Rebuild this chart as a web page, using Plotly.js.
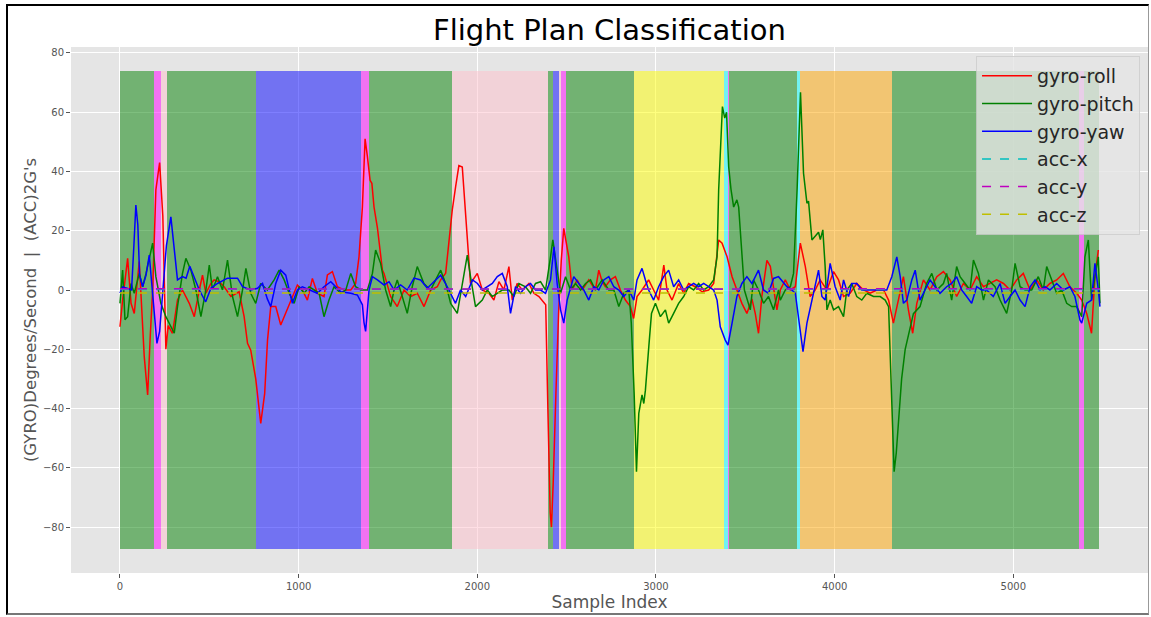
<!DOCTYPE html>
<html>
<head>
<meta charset="utf-8">
<script src="https://cdn.plot.ly/plotly-3.0.1.min.js"></script>
<style>
html,body{margin:0;padding:0;background:#fff;}
#wrap{position:relative;width:1151px;height:617px;overflow:hidden;}
#chart{position:absolute;left:0;top:0;width:1151px;height:617px;}
#frame{position:absolute;left:6px;top:4px;width:1143px;height:611px;border-left:2px solid #000;border-top:2px solid #000;border-bottom:2px solid #777;border-right:1px solid #999;box-sizing:border-box;pointer-events:none;}
</style>
</head>
<body>
<div id="wrap"><div id="chart"></div><div id="frame"></div></div>
<script>
// ---- flight-plan class bands (sample index ranges) ----
const bandStart = [0,188,231,264,764,1347,1394,1860,2393,2426,2457,2466,2499,2878,3382,3401,3410,3789,3807,4323,5369,5395];
const bandEnd   = [188,231,264,764,1347,1394,1860,2393,2426,2457,2466,2499,2878,3382,3401,3410,3789,3807,4323,5369,5395,5479];
const bandClass = ['green','magenta','pink','green','blue','magenta','green','pink','green','blue','pink','magenta','green','yellow','cyan','magenta','green','cyan','orange','green','magenta','green'];
const bandBottom = -87.5;
const bandTop = 74;

// ---- gyro-roll ----
const rollX = [0,15,43,62,80,108,136,155,170,183,201,222,240,257,270,294,322,350,388,416,444,462,481,509,527,555,583,621,667,695,714,732,760,788,810,826,844,872,900,928,965,993,1021,1049,1077,1105,1142,1161,1189,1217,1254,1292,1319,1338,1357,1372,1385,1400,1410,1422,1441,1469,1478,1515,1552,1590,1627,1664,1702,1739,1776,1795,1823,1841,1860,1879,1897,1916,1934,1953,1962,2000,2028,2065,2093,2121,2149,2177,2196,2223,2252,2289,2317,2345,2373,2383,2395,2408,2415,2425,2440,2455,2470,2484,2512,2531,2559,2587,2624,2661,2680,2699,2717,2745,2773,2801,2829,2857,2875,2894,2922,2959,2987,3015,3044,3062,3090,3127,3155,3183,3220,3258,3295,3323,3351,3370,3398,3426,3453,3481,3509,3537,3556,3574,3593,3621,3640,3677,3696,3724,3752,3780,3808,3836,3863,3891,3919,3957,3994,4022,4050,4087,4124,4162,4199,4236,4274,4302,4329,4357,4385,4413,4437,4460,4497,4534,4572,4609,4646,4683,4721,4758,4795,4833,4870,4907,4945,4982,5019,5056,5094,5131,5168,5205,5243,5280,5317,5355,5383,5411,5438,5457,5476];
const rollY = [-12.4,-3.4,10.7,-4.5,-7.9,9.6,-22.5,-35.4,-15,0,33.8,43,25,-20,-12,-14.6,-3.4,0,-4.5,-9,0,5,-1.1,2.2,3.4,2.8,1.1,-2.2,-0.6,-9,-18,-20.3,-30,-45,-35,-16.9,-5.6,-5.6,-11.8,-7.9,-2.2,1.7,0,-3.4,3.9,-1.1,-2.2,5.1,6.2,1.1,0,0,2.2,11.2,28,51,45,37,36,28,21,6.7,5.6,-2.2,-5.6,0,-2.2,-1.1,-5.6,0,1.1,3.4,5.7,16.9,27,35,42,41.5,26,12.4,2.2,5.6,0,-1.1,-3.4,2.8,0,7.9,-3.4,2.2,0,2.2,-1.1,-2.2,-4.5,-5,-40,-75,-80,-65,-35,-8,10,20.8,11.2,0,3.4,0,3.4,0,6.7,2.8,1.1,3.4,4.5,0,-3.4,-5.6,-9.6,-2.2,0,3.4,0,-3.4,8.4,0,-3.4,2.2,-1.1,2.2,1.1,-0.6,0,2.2,16.9,15.8,11.2,4.5,0,-4.5,-7.9,-3,-8,-14.6,-2,10,8,-6.7,0,3.4,0,1.1,15.8,7.9,-2.2,0,3.4,0,6.2,3.4,-2.2,-1.1,2.2,0,-1.1,0,0,-3.4,-11.2,-3.4,4.5,-6.7,-14.6,-4.5,3.4,0,4.5,6.2,3.4,-2.2,2.2,0,4.5,1.1,2.2,3.4,2.2,0,3.4,5.6,0,3.4,0,2.2,3.4,5.6,1.1,-1.1,-3.4,-7.9,-14.6,4.5,13.5];

// ---- gyro-pitch ----
const pitchX = [0,15,28,43,62,80,108,127,146,164,183,201,229,257,285,304,322,350,369,397,425,453,481,500,518,546,574,602,630,658,686,705,732,760,788,825,863,891,919,947,975,1003,1031,1059,1087,1115,1142,1170,1198,1236,1264,1292,1319,1348,1385,1413,1431,1459,1487,1515,1534,1552,1580,1608,1636,1664,1701,1739,1767,1795,1823,1851,1888,1916,1944,1962,1990,2028,2056,2084,2112,2140,2177,2205,2233,2270,2298,2326,2354,2382,2410,2423,2447,2466,2494,2522,2550,2578,2606,2634,2661,2699,2736,2764,2792,2820,2848,2862,2878,2891,2904,2922,2932,2941,2960,2975,2997,3025,3053,3071,3099,3127,3155,3183,3211,3239,3267,3295,3323,3342,3351,3365,3372,3385,3395,3407,3420,3435,3453,3463,3472,3481,3495,3528,3546,3574,3602,3630,3658,3686,3696,3724,3752,3770,3790,3809,3826,3845,3854,3873,3891,3910,3920,3934,3947,3957,3975,3994,4022,4050,4068,4096,4124,4152,4180,4218,4255,4283,4302,4311,4333,4345,4360,4375,4395,4420,4441,4478,4515,4544,4572,4609,4627,4655,4683,4702,4730,4758,4777,4805,4833,4861,4898,4926,4963,4991,5010,5038,5066,5103,5140,5168,5187,5215,5243,5271,5299,5327,5355,5383,5401,5420,5438,5457,5476,5485];
const pitchY = [-4.5,6.7,-10,-9,2.2,-1.1,5.6,1.1,5.6,10.1,15.8,4.5,-4.5,-9,-12.4,-14.6,-5.6,5.6,10.7,6.7,0,-9,0,8.4,0,4.5,0,10.1,-2.2,-9,0,7.3,-1.1,-4.5,2.2,0,3.4,6.7,3.4,-1.1,-4.5,1.1,-1.1,1.1,0,-1.1,-9,-3.4,1.1,-1.1,0,5.6,1.1,0,0,5.6,13.5,9,0,-5.6,0,3.4,-2.2,-7.9,1.1,7.9,2.2,0,3.4,6.7,2.2,-4.5,-7.9,2.2,11.8,4.5,-5.6,-3.4,0,-2.2,-1.1,0,0,-2.2,2.2,1.1,-1.1,2.2,2.8,0,11.2,16.9,6.7,-1.1,4.5,0,2.2,0,2.2,3.4,0,3.4,0,0,-5.6,-1.1,0,-11.2,-35,-61.3,-41.6,-35.4,-38.3,-33.8,-19.1,-7.9,-4.5,-9,-6.7,-11.2,-7.9,-4.5,-2.2,1.1,0,2.2,0,1.1,3.4,11.2,33.8,55,61.9,58,60,41.6,34,28,30.4,28,20,10,0,-6.7,3.4,0,-4.5,-2.2,-6.7,0,-3.4,0,1.1,5.6,33.8,66.7,39.4,29.3,30,16.9,18.2,19.5,17,20.3,7.9,-6.7,-3.4,-6.7,-5.6,-9,0,2.2,-2.2,-3.4,-1.1,-2.2,-2.2,-3.4,-5.6,-22.5,-61.3,-55,-42,-30,-20,-13,-8,-5.6,2.2,5.6,0,2.2,5.6,-3.4,7.9,4.5,2.2,0,10.1,5.6,-3.4,3.4,1.1,-3.4,-7.9,0,9,1.1,0,0,4.5,0,7.9,3.4,-1.1,0,-4.5,-5.6,-5.6,-9,11.2,16.9,-3.4,4.5,11.2,-4.5];

// ---- gyro-yaw ----
const yawX = [0,15,43,65,78,89,100,110,127,146,164,180,195,207,222,240,260,285,300,322,350,370,391,410,444,480,509,546,602,658,686,732,770,798,825,844,872,900,928,965,993,1021,1068,1105,1142,1180,1236,1292,1329,1357,1366,1375,1394,1413,1441,1478,1506,1534,1571,1608,1646,1683,1720,1758,1795,1832,1851,1878,1906,1935,1973,2001,2028,2056,2084,2112,2140,2168,2186,2214,2242,2270,2298,2326,2354,2382,2410,2429,2447,2466,2484,2503,2522,2540,2568,2596,2624,2652,2680,2708,2736,2764,2792,2820,2848,2876,2894,2922,2941,2959,2987,3015,3043,3071,3099,3127,3155,3183,3211,3239,3267,3295,3323,3342,3360,3388,3403,3426,3453,3481,3509,3537,3574,3602,3630,3658,3686,3733,3761,3780,3798,3817,3823,3845,3873,3891,3910,3929,3947,3975,4003,4031,4050,4078,4096,4124,4152,4180,4218,4255,4292,4320,4348,4367,4385,4404,4432,4451,4478,4506,4534,4562,4590,4627,4655,4683,4711,4739,4767,4795,4823,4851,4888,4926,4954,4982,5010,5038,5066,5094,5122,5150,5177,5205,5243,5280,5317,5345,5373,5383,5411,5438,5457,5476,5485];
const yawY = [-1,1,0.5,0,15,28.7,22,5,1.1,5,11.8,0,-12,-18,-14,0,15,24.7,15,3.4,4.5,4,8,5,0,-4,0.6,2.2,4,4,1.1,0,0.6,2.2,-3,-5.6,2.2,6.7,5,-4.5,0,1.1,0,-1.1,1.1,2.8,-0.6,-1.1,-1.7,-5,-11,-14,0,4.5,3.4,1.7,2.8,0,1.7,0,4,3.4,0.6,2.8,5,1.1,-1.1,-4.5,0,-2.2,3.4,2.2,0,1.1,2.2,4.5,5.6,1.1,-7.9,1.1,-1.1,1.1,2.2,0,0,-1.1,3.4,14.6,2.2,-6.7,-11.2,-3.4,1.1,4.5,2.2,0,-3.4,1.1,0,3.4,4.5,1.1,0,-2.2,0,-3.4,3.4,7.3,3.4,0,-3.4,1.1,4.5,6.7,1.1,3.4,0,1.1,2.2,1.1,2.2,1.1,0,-3.4,-12.4,-16.9,-18.6,-11.2,-2.2,2.2,4.5,2.2,6.7,0,-1.1,3.9,4.5,1.1,0,-1.1,-9,-18,-20.8,-11.2,-3.4,1.1,6.7,-2.2,-3.4,9,1.1,-3.4,3.4,-2.2,2.2,2.2,0,0,0,0,0,4.5,11.2,4.5,-4.5,-3.4,3.4,6.7,-3.4,0,3.4,1.1,-1.1,1.1,2.2,4.5,0,-2.2,-4.5,1.1,0,0,-2.2,2.2,-4.5,-2.2,0,-3.4,-5.6,1.1,3.4,0,1.1,0,2.2,0,1.1,-2.2,-10.1,-11.2,-4.5,-3.4,9,0,-5.6];

// ---- accelerometer (near zero) ----
const accIdx = [0,1000,2000,3000,4000,5000,5485];
const accX = [0.2,0.3,0.2,0.3,0.2,0.3,0.2];
const accY = [0.4,0.3,0.4,0.3,0.4,0.3,0.4];
const accZ = [-1.0,-1.1,-1.0,-1.0,-1.1,-1.0,-1.0];

const xTicks = [0,1000,2000,3000,4000,5000];
const yTicks = [-80,-60,-40,-20,0,20,40,60,80];

const classColor = {
  green:'rgba(0,128,0,0.5)', magenta:'rgba(255,0,255,0.5)', pink:'rgba(255,192,203,0.5)',
  blue:'rgba(0,0,255,0.5)', yellow:'rgba(255,255,0,0.5)', cyan:'rgba(0,255,255,0.5)',
  orange:'rgba(255,165,0,0.5)'
};

const bands = {
  type:'bar',
  x: bandStart.map((s,i)=>(s+bandEnd[i])/2),
  width: bandStart.map((s,i)=>bandEnd[i]-s),
  y: bandStart.map(()=>bandTop-bandBottom),
  base: bandBottom,
  marker:{color: bandClass.map(c=>classColor[c]), line:{width:0}},
  showlegend:false, hoverinfo:'skip'
};

function line(name,x,y,color,dash,w){
  return {type:'scatter',mode:'lines',name:name,x:x,y:y,legendgroup:name,
    line:{color:color,width:w,dash:dash}};
}

const traces = [
  bands,
  line('gyro-roll', rollX, rollY, '#ff0000','solid',1.5),
  line('gyro-pitch', pitchX, pitchY, '#008000','solid',1.5),
  line('gyro-yaw', yawX, yawY, '#0000ff','solid',1.5),
  line('acc-x', accIdx, accX, '#00bfbf','dash',1.5),
  line('acc-y', accIdx, accY, '#bf00bf','dash',1.5),
  line('acc-z', accIdx, accZ, '#bfbf00','dash',1.5)
];

const layout = {
  width:1151, height:617,
  margin:{l:71, r:3, t:47, b:44, pad:0},
  paper_bgcolor:'#ffffff', plot_bgcolor:'#e5e5e5',
  font:{family:'DejaVu Sans, sans-serif', color:'#555'},
  title:{text:'Flight Plan Classification', font:{size:29, color:'#000', family:'DejaVu Sans'},
    x:0.5295, xanchor:'center', y:0.951, yanchor:'middle', yref:'container', xref:'container'},
  xaxis:{range:[-274,5754], tickvals:xTicks, ticks:'outside', ticklen:4, tickcolor:'#555', tickwidth:1,
    tickfont:{size:10, color:'#555'}, showgrid:true, gridcolor:'#ffffff', gridwidth:1, zeroline:false,
    showline:false, title:{text:'Sample Index', font:{size:17, color:'#555'}, standoff:4}},
  yaxis:{range:[-95.5,82], tickvals:yTicks, ticks:'outside', ticklen:4, tickcolor:'#555', tickwidth:1,
    tickfont:{size:10, color:'#555'}, showgrid:true, gridcolor:'#ffffff', gridwidth:1, zeroline:false,
    showline:false, title:{text:"(GYRO)Degrees/Second  |  (ACC)2G's", font:{size:16.5, color:'#555'}, standoff:2}},
  showlegend:true,
  legend:{x:0.9926, xanchor:'right', y:0.983, yanchor:'top', bgcolor:'rgba(229,229,229,0.8)',
    bordercolor:'rgba(204,204,204,0.8)', borderwidth:1, font:{size:19, color:'#262626'},
    tracegroupgap:3, itemwidth:50, traceorder:'normal'},
  bargap:0
};

Plotly.newPlot('chart', traces, layout, {staticPlot:true, displayModeBar:false});
</script>
</body>
</html>
